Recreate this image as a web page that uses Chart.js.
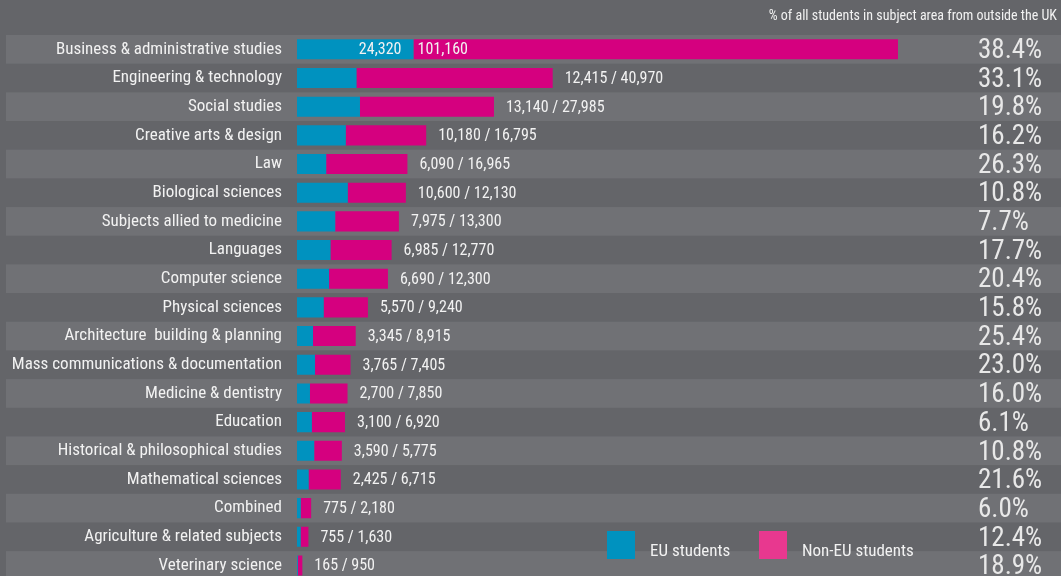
<!DOCTYPE html>
<html>
<head>
<meta charset="utf-8">
<script src="https://cdn.jsdelivr.net/npm/chart.js@4"></script>
<style>
  html, body { margin: 0; padding: 0; background: #646569; overflow: hidden; }
  canvas { display: block; }
</style>
</head>
<body>
<canvas id="chart" width="1061" height="605"></canvas>
<script>
// subjects, top to bottom
const subjects = [
    'Business & administrative studies', 'Engineering & technology', 'Social studies',
    'Creative arts & design', 'Law', 'Biological sciences', 'Subjects allied to medicine',
    'Languages', 'Computer science', 'Physical sciences', 'Architecture  building & planning',
    'Mass communications & documentation', 'Medicine & dentistry', 'Education',
    'Historical & philosophical studies', 'Mathematical sciences', 'Combined',
    'Agriculture & related subjects', 'Veterinary science'
];
const euStudents = [24320, 12415, 13140, 10180, 6090, 10600, 7975, 6985, 6690, 5570,
    3345, 3765, 2700, 3100, 3590, 2425, 775, 755, 165];
const nonEuStudents = [101160, 40970, 27985, 16795, 16965, 12130, 13300, 12770, 12300, 9240,
    8915, 7405, 7850, 6920, 5775, 6715, 2180, 1630, 950];
const pctOutsideUK = ['38.4%', '33.1%', '19.8%', '16.2%', '26.3%', '10.8%', '7.7%', '17.7%',
    '20.4%', '15.8%', '25.4%', '23.0%', '16.0%', '6.1%', '10.8%', '21.6%', '6.0%', '12.4%', '18.9%'];

const FONT = "'Liberation Sans Narrow', 'Roboto Condensed', 'Arial Narrow', sans-serif";
const TEXT = '#f2f2f2';
const BLUE = '#0092bf';
const PINK = '#d5007f';

const fmt = n => n.toLocaleString('en-GB');

// background + alternating row bands
const bandsPlugin = {
    id: 'bands',
    beforeDraw(chart) {
        const { ctx, width, height } = chart;
        const y = chart.scales.y;
        ctx.save();
        ctx.fillStyle = '#646569';
        ctx.fillRect(0, 0, width, height);
        const step = (y.bottom - y.top) / subjects.length;
        subjects.forEach((s, i) => {
            if (i % 2) return;
            const c = y.getPixelForValue(i);
            ctx.fillStyle = '#707175';
            ctx.fillRect(6, c - step / 2, width - 6, step);
        });
        ctx.restore();
    }
};

// value labels, percentages and legend
const labelsPlugin = {
    id: 'labels',
    afterDatasetsDraw(chart) {
        const { ctx } = chart;
        const eu = chart.getDatasetMeta(0).data;
        const non = chart.getDatasetMeta(1).data;
        ctx.save();
        ctx.fillStyle = TEXT;
        ctx.textBaseline = 'middle';
        subjects.forEach((s, i) => {
            const cy = eu[i].y + 1;
            ctx.font = '16px ' + FONT;
            if (i === 0) {
                ctx.textAlign = 'right';
                ctx.fillText(fmt(euStudents[i]), eu[i].x - 12, cy);
                ctx.textAlign = 'left';
                ctx.fillText(fmt(nonEuStudents[i]), eu[i].x + 4, cy);
            } else {
                ctx.textAlign = 'left';
                ctx.fillText(fmt(euStudents[i]) + ' / ' + fmt(nonEuStudents[i]), non[i].x + 12, cy);
            }
            ctx.font = '27px ' + FONT;
            ctx.fillStyle = '#e8e8e8';
            ctx.fillText(pctOutsideUK[i], 978, cy + 1);
            ctx.fillStyle = TEXT;
        });

        // legend
        ctx.fillStyle = BLUE;
        ctx.fillRect(607, 531, 28, 28);
        ctx.fillStyle = '#e8388f';
        ctx.fillRect(759, 531, 28, 28);
        ctx.fillStyle = TEXT;
        ctx.font = '17px ' + FONT;
        ctx.textAlign = 'left';
        ctx.fillText('EU students', 650, 552);
        ctx.fillText('Non-EU students', 802, 552);
        ctx.restore();
    }
};

new Chart(document.getElementById('chart'), {
    type: 'bar',
    data: {
        labels: subjects,
        datasets: [
            { label: 'EU students', data: euStudents, backgroundColor: BLUE, barPercentage: 0.7, categoryPercentage: 1 },
            { label: 'Non-EU students', data: nonEuStudents, backgroundColor: PINK, barPercentage: 0.7, categoryPercentage: 1 }
        ]
    },
    options: {
        indexAxis: 'y',
        responsive: false,
        animation: false,
        layout: { padding: { left: 0, right: 4, top: 0, bottom: 0 } },
        plugins: {
            legend: { display: false },
            tooltip: { enabled: false },
            title: {
                display: true,
                text: '% of all students in subject area from outside the UK',
                align: 'end',
                color: TEXT,
                font: { family: FONT, size: 14, weight: 'normal', lineHeight: 1.2 },
                padding: { top: 8, bottom: 10.2 }
            }
        },
        scales: {
            x: {
                stacked: true,
                display: false,
                min: 0,
                max: 158680
            },
            y: {
                stacked: true,
                grid: { display: false, drawTicks: false },
                border: { display: false },
                ticks: {
                    color: TEXT,
                    padding: 15,
                    autoSkip: false,
                    font: { family: FONT, size: 17 }
                },
                afterFit(scale) { scale.width = 297; }
            }
        }
    },
    plugins: [bandsPlugin, labelsPlugin]
});
</script>
</body>
</html>
